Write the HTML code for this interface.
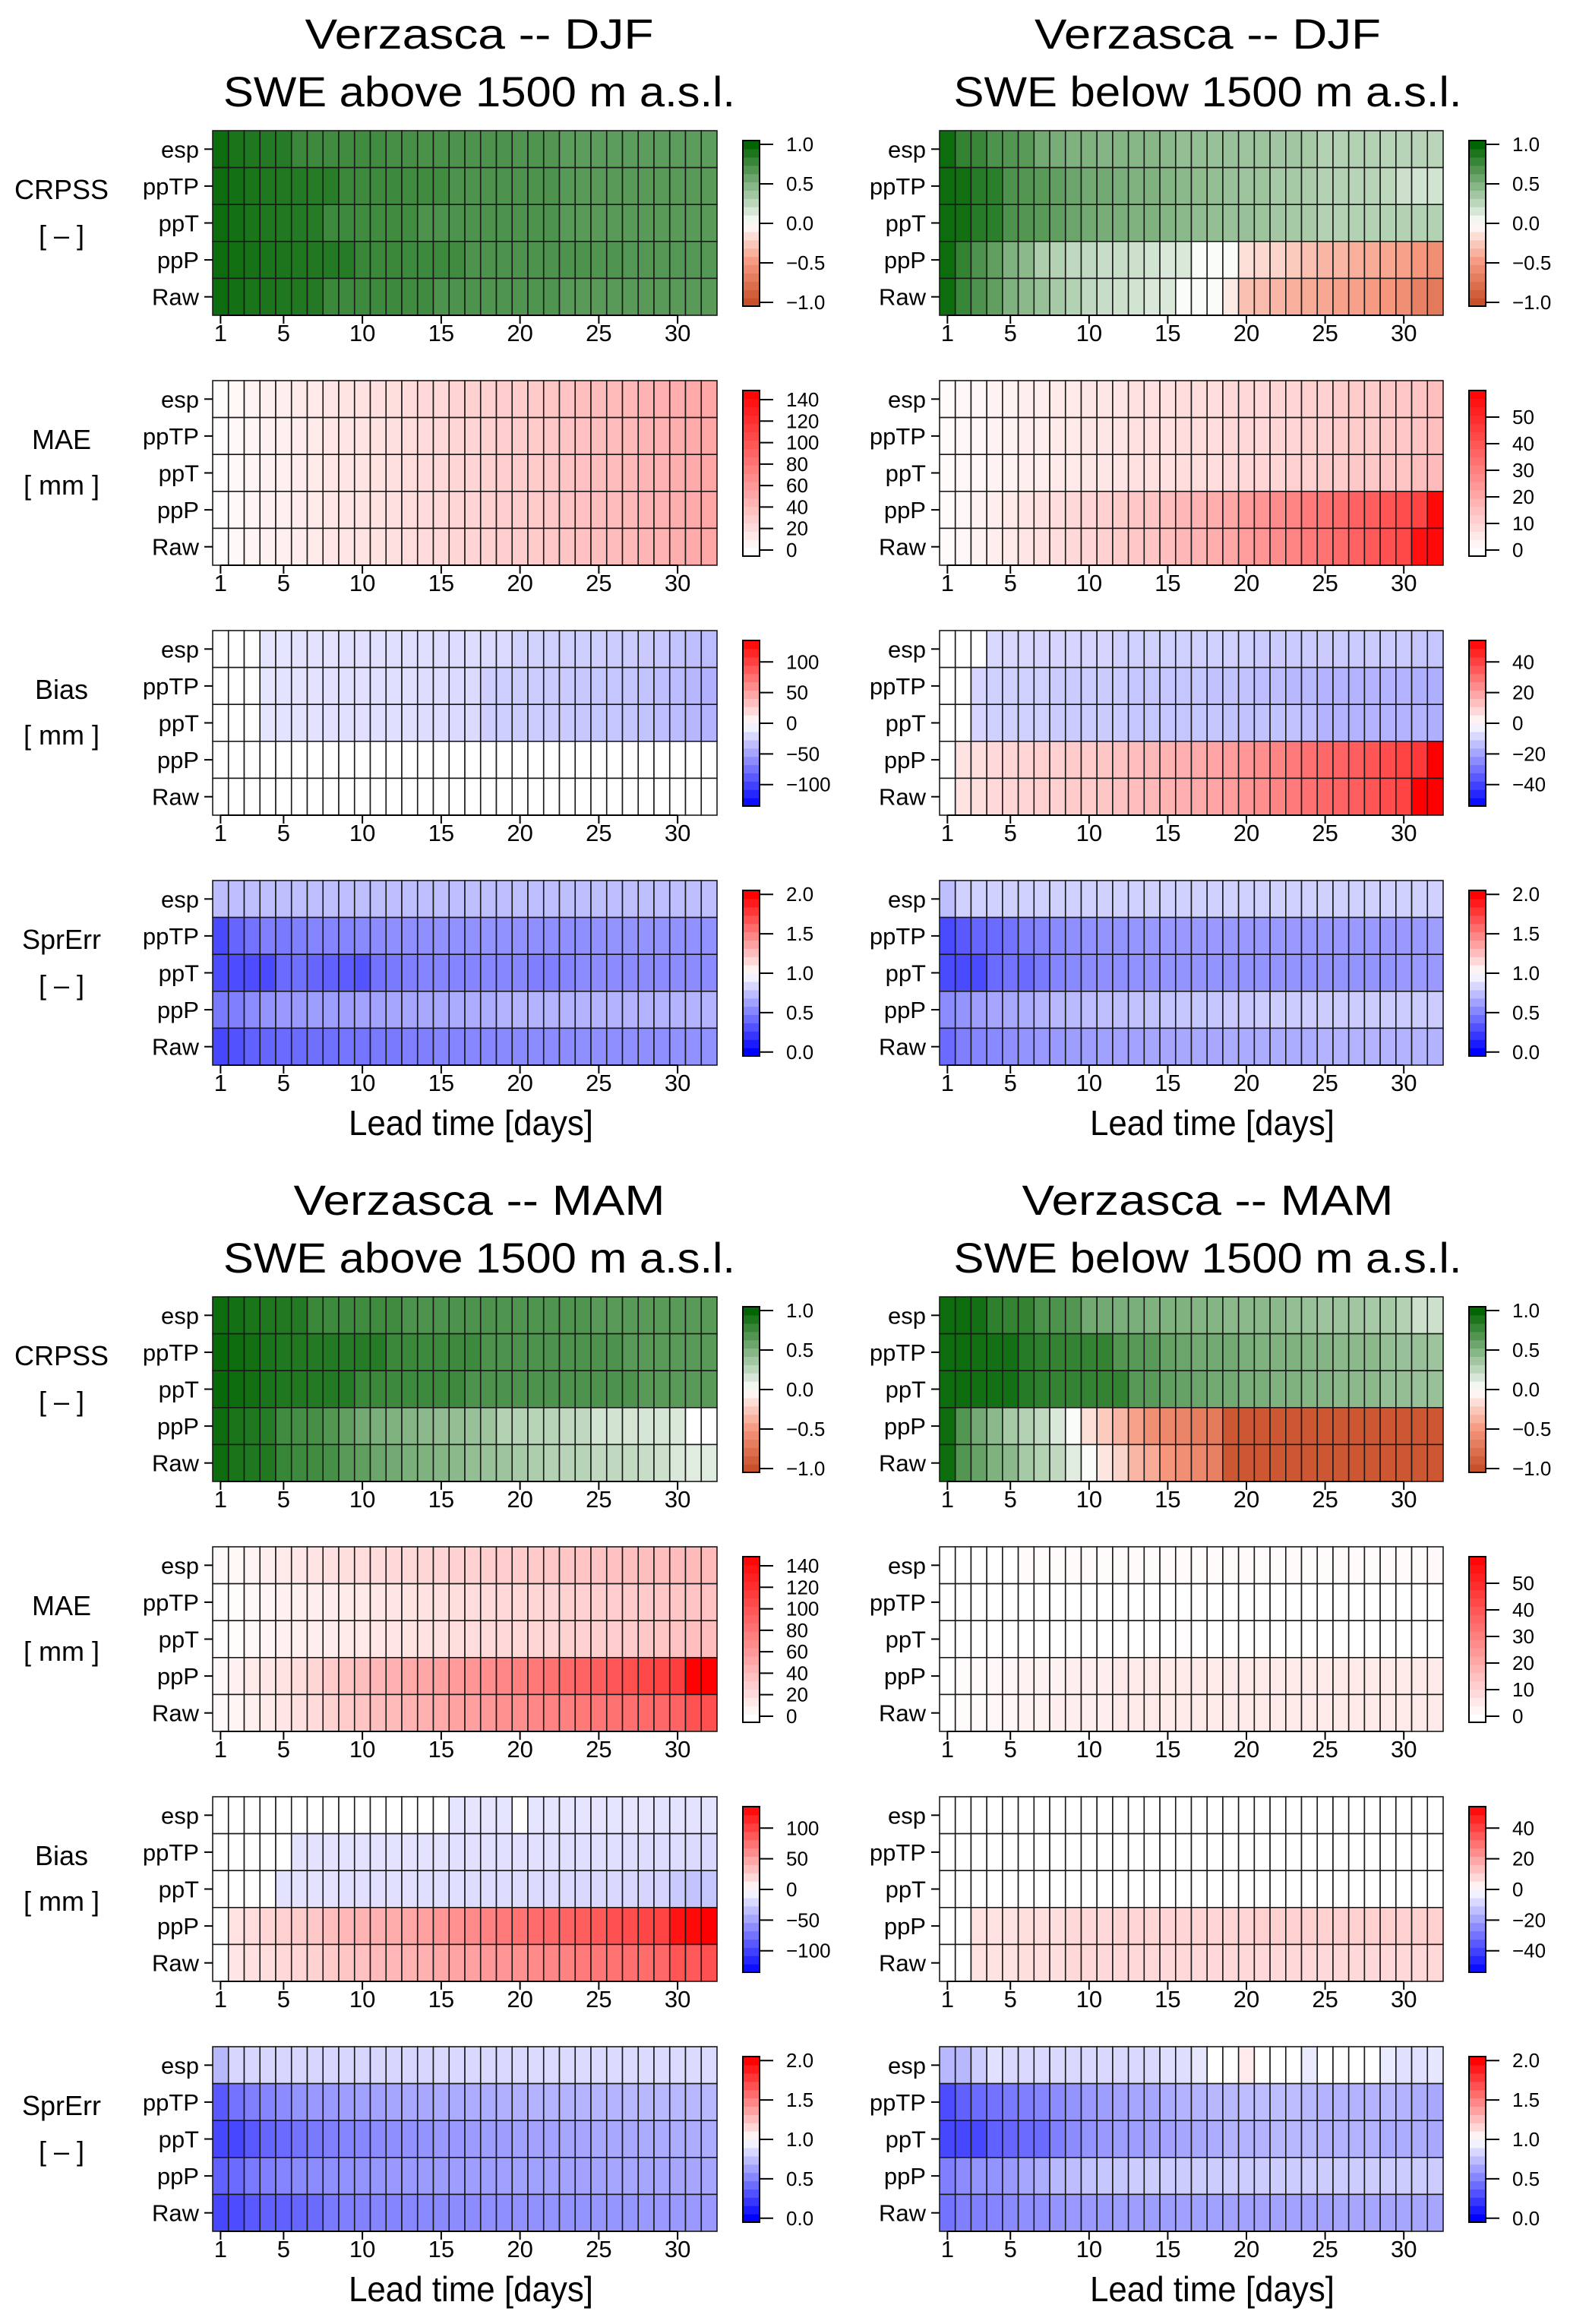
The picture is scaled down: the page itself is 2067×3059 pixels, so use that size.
<!DOCTYPE html>
<html><head><meta charset="utf-8"><title>Verzasca verification heatmaps</title>
<style>
html,body{margin:0;padding:0;background:#fff;}
svg{display:block;font-family:"Liberation Sans",Arial,sans-serif;}
</style></head>
<body>
<svg id="fig" width="2067" height="3059" viewBox="0 0 2067 3059" xmlns="http://www.w3.org/2000/svg"></svg>
<script>
// ---------- data ----------
const rowNames = ["esp","ppTP","ppT","ppP","Raw"];
const leadTicks = [1,5,10,15,20,25,30];
const crpssTicks = ["1.0","0.5","0.0","-0.5","-1.0"];
const crpssTickVals = [1,0.5,0,-0.5,-1];
const maeLeftTicks = [0,20,40,60,80,100,120,140];
const maeRightTicks = [0,10,20,30,40,50];
const biasLeftTicks = [100,50,0,-50,-100];
const biasRightTicks = [40,20,0,-20,-40];
const sprTicks = ["2.0","1.5","1.0","0.5","0.0"];
const sprTickVals = [2,1.5,1,0.5,0];

// DJF above 1500
const djfAboveCrpss = [
 [0.95,0.9,0.88,0.86,0.85,0.77,0.76,0.75,0.75,0.75,0.74,0.72,0.72,0.71,0.71,0.7,0.7,0.7,0.7,0.69,0.69,0.68,0.64,0.64,0.64,0.64,0.64,0.64,0.64,0.64,0.64,0.64],
 [0.95,0.92,0.9,0.88,0.87,0.86,0.85,0.84,0.77,0.76,0.76,0.76,0.75,0.75,0.74,0.7,0.7,0.7,0.7,0.7,0.7,0.7,0.66,0.65,0.65,0.65,0.65,0.65,0.65,0.65,0.65,0.65],
 [0.95,0.92,0.9,0.88,0.87,0.86,0.85,0.76,0.76,0.75,0.75,0.75,0.74,0.7,0.7,0.7,0.7,0.7,0.7,0.7,0.7,0.7,0.65,0.65,0.65,0.65,0.65,0.65,0.65,0.65,0.65,0.65],
 [0.95,0.93,0.91,0.9,0.89,0.88,0.87,0.86,0.85,0.78,0.77,0.77,0.76,0.76,0.76,0.75,0.7,0.7,0.7,0.7,0.7,0.7,0.7,0.7,0.69,0.69,0.67,0.67,0.67,0.67,0.67,0.67],
 [0.95,0.92,0.9,0.89,0.88,0.87,0.86,0.77,0.76,0.76,0.76,0.76,0.75,0.75,0.7,0.7,0.7,0.69,0.69,0.69,0.69,0.69,0.65,0.65,0.65,0.65,0.65,0.65,0.65,0.65,0.65,0.65]];
const djfAboveMae = [
 [2,5,7,9,10,12,13,15,16,17,18,19,21,22,23,25,26,27,29,30,31,33,35,37,39,40,42,44,46,48,50,52],
 [1,4,6,8,9,11,12,14,15,16,17,18,20,21,22,24,25,26,28,29,30,32,34,36,38,39,41,43,45,47,49,51],
 [1,4,6,8,9,11,12,14,15,16,17,18,20,21,22,24,25,26,28,29,30,32,34,36,38,39,41,43,45,47,49,51],
 [1,4,6,8,9,11,12,14,15,16,17,18,20,21,22,24,25,26,28,29,30,32,34,36,38,39,41,43,45,47,49,51],
 [1,4,6,8,9,11,12,14,15,16,17,18,20,21,22,24,25,26,28,29,30,32,34,36,38,39,41,43,45,47,49,51]];
const djfAboveBias = [
 [0,0,0,-14,-14,-15,-15,-15,-16,-16,-16,-17,-17,-17,-18,-18,-18,-19,-19,-24,-24,-25,-25,-26,-26,-27,-27,-28,-29,-32,-34,-36],
 [0,0,0,-14,-15,-15,-15,-16,-16,-16,-17,-17,-17,-18,-18,-19,-19,-26,-26,-27,-27,-28,-28,-29,-30,-30,-31,-32,-34,-36,-38,-42],
 [0,0,0,-14,-15,-15,-15,-16,-16,-16,-17,-17,-17,-18,-18,-19,-19,-26,-26,-27,-27,-28,-28,-29,-30,-30,-31,-32,-34,-36,-38,-40],
 [0,0,0,0,0,0,0,0,0,0,0,0,0,0,0,0,0,0,0,0,0,0,0,0,0,0,0,0,0,0,0,0],
 [0,0,0,0,0,0,0,0,0,0,0,0,0,0,0,0,0,0,0,0,0,0,0,0,0,0,0,0,0,0,0,0]];
const djfAboveSpr = [
 [0.74,0.75,0.75,0.75,0.75,0.75,0.75,0.75,0.75,0.75,0.75,0.75,0.75,0.75,0.75,0.75,0.75,0.75,0.75,0.75,0.75,0.75,0.75,0.75,0.75,0.75,0.75,0.75,0.75,0.75,0.75,0.75],
 [0.29,0.4,0.45,0.5,0.48,0.5,0.52,0.52,0.52,0.54,0.55,0.56,0.56,0.56,0.57,0.57,0.57,0.58,0.57,0.57,0.56,0.56,0.56,0.56,0.57,0.58,0.58,0.58,0.58,0.57,0.57,0.57],
 [0.3,0.3,0.3,0.29,0.42,0.44,0.4,0.38,0.36,0.33,0.45,0.48,0.5,0.52,0.52,0.52,0.52,0.53,0.53,0.53,0.5,0.5,0.52,0.55,0.55,0.55,0.55,0.55,0.55,0.55,0.55,0.55],
 [0.48,0.5,0.55,0.58,0.6,0.6,0.62,0.62,0.62,0.64,0.64,0.65,0.65,0.66,0.66,0.67,0.68,0.68,0.7,0.7,0.7,0.7,0.7,0.7,0.7,0.7,0.7,0.7,0.7,0.7,0.7,0.7],
 [0.28,0.32,0.38,0.4,0.42,0.42,0.44,0.44,0.46,0.46,0.48,0.48,0.5,0.5,0.52,0.52,0.53,0.53,0.54,0.54,0.55,0.55,0.55,0.56,0.56,0.56,0.56,0.56,0.56,0.57,0.57,0.57]];

// DJF below 1500
const djfBelowCrpss = [
 [0.95,0.8,0.78,0.7,0.68,0.65,0.55,0.53,0.5,0.5,0.48,0.48,0.47,0.47,0.45,0.42,0.42,0.4,0.4,0.38,0.38,0.37,0.37,0.35,0.3,0.3,0.3,0.3,0.28,0.28,0.28,0.27],
 [0.95,0.93,0.85,0.83,0.7,0.68,0.65,0.62,0.58,0.55,0.55,0.52,0.5,0.5,0.48,0.45,0.44,0.42,0.4,0.38,0.38,0.35,0.35,0.33,0.3,0.3,0.28,0.28,0.26,0.2,0.18,0.18],
 [0.95,0.93,0.85,0.83,0.7,0.68,0.65,0.62,0.58,0.55,0.53,0.52,0.5,0.5,0.48,0.45,0.43,0.42,0.4,0.4,0.38,0.36,0.35,0.34,0.3,0.3,0.3,0.3,0.3,0.3,0.3,0.3],
 [0.95,0.8,0.7,0.62,0.5,0.45,0.32,0.3,0.25,0.25,0.22,0.22,0.2,0.18,0.15,0.15,0.02,0.02,0.02,-0.15,-0.18,-0.2,-0.25,-0.3,-0.35,-0.35,-0.38,-0.4,-0.42,-0.45,-0.5,-0.55],
 [0.95,0.78,0.7,0.62,0.5,0.45,0.4,0.35,0.3,0.25,0.22,0.2,0.18,0.15,0.15,0.02,0.02,0.02,-0.1,-0.3,-0.32,-0.35,-0.38,-0.4,-0.42,-0.45,-0.45,-0.48,-0.5,-0.55,-0.65,-0.7]];
const djfBelowMae = [
 [1,2,2,3,3,4,4,5,5,6,6,6,7,7,7,8,8,8,9,9,9,10,10,11,11,12,12,12,13,13,14,15],
 [1,2,2,3,3,4,4,5,5,6,6,6,7,7,7,8,8,8,9,9,9,10,10,11,11,12,12,12,13,13,14,15],
 [1,2,2,3,3,4,4,5,5,6,6,6,7,7,7,8,8,8,9,9,10,10,11,11,12,12,13,13,14,14,15,16],
 [1,2,3,4,5,6,7,8,9,10,11,12,13,14,15,17,18,19,21,23,25,27,29,31,33,35,37,38,40,42,44,58],
 [1,2,3,4,5,6,7,8,9,10,11,12,13,14,15,17,18,19,21,23,25,27,29,31,33,35,37,39,41,43,56,58]];
const djfBelowBias = [
 [0,0,0,-8,-8,-8,-9,-9,-9,-9,-9,-10,-10,-10,-10,-10,-10,-10,-10,-10,-11,-11,-11,-11,-11,-11,-11,-11,-11,-11,-12,-12],
 [0,0,-9,-10,-10,-10,-10,-11,-11,-11,-11,-11,-12,-12,-12,-12,-12,-13,-13,-13,-14,-14,-15,-15,-16,-16,-16,-16,-16,-16,-17,-17],
 [0,0,-9,-10,-10,-10,-10,-11,-11,-11,-11,-11,-12,-12,-12,-12,-12,-12,-13,-13,-13,-13,-13,-14,-16,-16,-16,-16,-16,-16,-16,-17],
 [0,6,7,8,9,9,10,10,11,11,12,13,14,15,16,17,18,19,21,22,24,26,28,30,32,33,34,36,38,40,42,54],
 [0,6,7,8,9,9,10,10,11,11,12,13,14,15,16,17,18,19,21,22,24,26,28,30,32,33,34,36,38,40,54,54]];
const djfBelowSpr = [
 [0.75,0.82,0.82,0.82,0.82,0.82,0.82,0.82,0.82,0.82,0.82,0.82,0.82,0.82,0.82,0.82,0.82,0.82,0.82,0.82,0.82,0.82,0.82,0.82,0.82,0.82,0.82,0.82,0.82,0.82,0.82,0.82],
 [0.29,0.35,0.4,0.42,0.45,0.5,0.52,0.54,0.56,0.57,0.58,0.58,0.59,0.6,0.6,0.6,0.6,0.6,0.6,0.6,0.6,0.6,0.6,0.6,0.6,0.6,0.6,0.6,0.6,0.6,0.6,0.62],
 [0.29,0.29,0.29,0.42,0.45,0.42,0.48,0.52,0.54,0.55,0.56,0.56,0.57,0.58,0.58,0.58,0.58,0.58,0.58,0.58,0.58,0.58,0.58,0.58,0.58,0.58,0.58,0.58,0.58,0.6,0.6,0.6],
 [0.55,0.58,0.62,0.65,0.66,0.68,0.7,0.72,0.73,0.74,0.75,0.75,0.76,0.76,0.77,0.78,0.78,0.78,0.79,0.79,0.8,0.8,0.8,0.8,0.8,0.8,0.8,0.8,0.8,0.8,0.8,0.8],
 [0.42,0.5,0.52,0.54,0.56,0.58,0.6,0.6,0.62,0.62,0.63,0.64,0.64,0.65,0.65,0.66,0.66,0.66,0.67,0.67,0.68,0.68,0.68,0.68,0.7,0.7,0.7,0.7,0.7,0.7,0.7,0.7]];

// MAM above 1500
const mamAboveCrpss = [
 [0.95,0.92,0.9,0.88,0.87,0.86,0.77,0.76,0.76,0.75,0.75,0.75,0.7,0.7,0.7,0.7,0.7,0.7,0.69,0.69,0.69,0.69,0.69,0.69,0.65,0.65,0.65,0.65,0.65,0.65,0.65,0.65],
 [0.97,0.95,0.93,0.9,0.88,0.87,0.86,0.86,0.85,0.85,0.85,0.77,0.77,0.76,0.76,0.76,0.76,0.7,0.7,0.7,0.7,0.7,0.7,0.7,0.7,0.7,0.65,0.65,0.65,0.65,0.65,0.65],
 [0.97,0.95,0.93,0.9,0.88,0.87,0.86,0.86,0.85,0.77,0.77,0.76,0.76,0.76,0.76,0.76,0.7,0.7,0.7,0.7,0.7,0.7,0.7,0.7,0.7,0.7,0.7,0.65,0.65,0.65,0.65,0.65],
 [0.95,0.9,0.88,0.85,0.75,0.73,0.72,0.68,0.62,0.55,0.52,0.5,0.48,0.45,0.43,0.42,0.4,0.38,0.3,0.3,0.28,0.28,0.25,0.25,0.18,0.18,0.17,0.16,0.16,0.15,0.0,0.0],
 [0.95,0.9,0.88,0.87,0.78,0.76,0.74,0.72,0.65,0.62,0.58,0.55,0.52,0.5,0.48,0.45,0.42,0.4,0.38,0.35,0.32,0.3,0.28,0.28,0.25,0.25,0.24,0.22,0.2,0.15,0.12,0.12]];
const mamAboveMae = [
 [3,5,7,10,12,14,16,18,19,20,21,22,23,24,25,26,27,28,29,30,31,32,33,34,35,36,37,38,38,39,40,40],
 [1,2,4,6,8,9,10,11,12,13,14,15,16,17,18,19,20,21,22,23,24,25,26,27,28,29,30,31,32,33,34,35],
 [1,2,4,6,8,9,10,11,12,13,14,15,16,17,18,19,20,21,22,23,24,25,26,27,28,29,30,32,33,35,37,38],
 [4,8,12,14,17,20,24,30,34,38,42,46,50,52,55,58,62,66,70,74,78,82,86,90,94,98,102,106,110,112,148,148],
 [3,6,9,12,15,18,21,26,30,34,38,40,44,46,50,54,56,60,64,66,70,72,74,78,80,82,84,86,88,90,100,102]];
const mamAboveBias = [
 [0,0,0,0,0,0,0,0,0,0,0,0,0,0,0,-14,-14,-14,-14,0,-14,-14,-14,-14,-14,-14,-14,-14,-15,-15,-15,-15],
 [0,0,0,0,0,-15,-15,-15,-15,-15,-15,-15,-15,-15,-15,-16,-16,-16,-16,-16,-16,-17,-17,-17,-17,-17,-18,-18,-18,-18,-19,-20],
 [0,0,0,0,-15,-15,-15,-15,-16,-16,-16,-16,-16,-17,-17,-17,-18,-18,-18,-18,-19,-19,-19,-20,-20,-20,-21,-22,-23,-28,-32,-30],
 [0,15,18,22,25,27,29,35,38,40,42,44,47,50,55,58,62,66,70,74,78,80,82,85,88,92,95,98,100,125,130,135],
 [0,14,16,18,20,22,24,28,30,33,36,38,40,42,46,48,50,54,56,58,62,64,66,70,72,74,76,78,80,90,88,92]];
const mamAboveSpr = [
 [0.72,0.84,0.84,0.84,0.84,0.84,0.84,0.84,0.84,0.84,0.84,0.84,0.84,0.84,0.85,0.85,0.85,0.85,0.85,0.85,0.86,0.86,0.86,0.86,0.86,0.86,0.86,0.86,0.86,0.86,0.86,0.86],
 [0.35,0.45,0.5,0.52,0.55,0.58,0.6,0.6,0.62,0.63,0.64,0.65,0.66,0.66,0.67,0.67,0.68,0.68,0.69,0.69,0.7,0.7,0.7,0.71,0.71,0.71,0.72,0.72,0.72,0.72,0.72,0.72],
 [0.28,0.28,0.35,0.4,0.42,0.45,0.48,0.5,0.52,0.53,0.55,0.56,0.57,0.58,0.6,0.6,0.61,0.62,0.62,0.63,0.64,0.64,0.65,0.65,0.66,0.66,0.66,0.67,0.67,0.68,0.68,0.68],
 [0.38,0.42,0.48,0.5,0.52,0.54,0.55,0.56,0.57,0.58,0.59,0.6,0.6,0.61,0.61,0.62,0.62,0.62,0.63,0.63,0.63,0.64,0.64,0.64,0.64,0.65,0.65,0.65,0.65,0.65,0.65,0.65],
 [0.28,0.3,0.35,0.38,0.38,0.4,0.42,0.48,0.5,0.51,0.52,0.52,0.53,0.54,0.54,0.55,0.55,0.56,0.56,0.57,0.57,0.58,0.58,0.58,0.59,0.59,0.59,0.6,0.6,0.6,0.6,0.6]];

// MAM below 1500
const mamBelowCrpss = [
 [0.95,0.95,0.92,0.82,0.8,0.8,0.7,0.7,0.68,0.55,0.55,0.52,0.52,0.5,0.5,0.5,0.48,0.48,0.45,0.45,0.45,0.45,0.42,0.4,0.38,0.38,0.37,0.35,0.35,0.3,0.2,0.2],
 [0.95,0.95,0.93,0.92,0.92,0.85,0.82,0.8,0.8,0.8,0.8,0.68,0.66,0.65,0.6,0.58,0.55,0.55,0.55,0.52,0.5,0.5,0.5,0.48,0.48,0.45,0.45,0.45,0.42,0.4,0.4,0.38],
 [0.95,0.95,0.93,0.92,0.92,0.85,0.82,0.8,0.8,0.8,0.8,0.8,0.66,0.65,0.62,0.6,0.58,0.55,0.55,0.52,0.52,0.5,0.5,0.48,0.48,0.45,0.45,0.45,0.42,0.42,0.4,0.4],
 [0.95,0.68,0.55,0.45,0.35,0.3,0.25,0.15,0.02,-0.15,-0.25,-0.35,-0.45,-0.55,-0.6,-0.62,-0.68,-0.7,-0.95,-0.95,-0.95,-0.95,-0.95,-0.95,-0.95,-0.95,-0.95,-0.95,-0.95,-0.95,-0.95,-0.95],
 [0.95,0.68,0.6,0.5,0.45,0.35,0.3,0.25,0.12,0.02,-0.12,-0.2,-0.35,-0.4,-0.5,-0.55,-0.6,-0.65,-0.95,-0.95,-0.95,-0.95,-0.95,-0.95,-0.95,-0.95,-0.95,-0.95,-0.95,-0.95,-0.95,-0.95]];
const mamBelowMae = [
 [0,0,0,0,0,1,1,1,1,1,1,1,1,1,1,1,1,1,1,1,1,1,1,1,1,1,1,1,1,1,1,1.5],
 [0,0,0,0,0,0,0,0,0,0,0,0,0,0,0,0,0.5,0,0,0,0,0,0,0,0,0,0,0,0,0,0,0],
 [0,0,0,0,0,0,0,0,0,0,0,0,0,0,0,0.5,0,0,0,0,0,0,0,0,0,0,0,0,0,0,0,0],
 [0,1,1,2,2,3,3,3,4,4,4,5,5,5,5,5,5,5,5,5,5,5,5,5,5,5,5,5,5,5,5,5],
 [0,1,1,2,2,3,3,4,4,4,4,5,5,5,5,5,5,5,5,5,5,5,5,5,5,5,5,5,5,5,5,5]];
const mamBelowBias = [
 [0,0,0,0,0,0,0,0,0,0,0,0,0,0,0,0,0,0,0,0,0,0,0,0,0,0,0,0,0,0,0,0],
 [0,0,0,0,0,0,0,0,0,0,0,0,0,0,0,0,0,0,0,0,0,0,0,0,0,0,0,0,0,0,0,0],
 [0,0,0,0,0,0,0,0,0,0,0,0,0,0,0,0,0,0,0,0,0,0,0,0,0,0,0,0,0,0,0,0],
 [0,0,6,6,6,7,7,7,8,8,8,9,9,9,9,9,9,9,9,9,10,10,10,10,10,10,10,10,10,10,10,10],
 [0,0,6,6,6,7,7,7,8,8,8,8,8,8,8,8,8,8,8,8,8,8,8,8,8,8,8,8,8,8,8,8]];
const mamBelowSpr = [
 [0.72,0.72,0.8,0.88,0.85,0.85,0.85,0.85,0.85,0.85,0.85,0.85,0.85,0.85,0.87,0.87,0.9,1,1,1.08,1,1,1,0.92,1,1,1,1,0.92,0.88,0.88,0.9],
 [0.3,0.38,0.42,0.45,0.48,0.5,0.52,0.55,0.58,0.6,0.62,0.64,0.65,0.65,0.68,0.7,0.7,0.72,0.72,0.74,0.74,0.74,0.74,0.72,0.7,0.7,0.7,0.7,0.72,0.7,0.68,0.66],
 [0.28,0.28,0.28,0.38,0.4,0.42,0.42,0.5,0.55,0.58,0.6,0.62,0.62,0.64,0.64,0.65,0.66,0.68,0.7,0.7,0.7,0.72,0.72,0.72,0.7,0.7,0.7,0.7,0.68,0.68,0.68,0.66],
 [0.5,0.55,0.58,0.58,0.6,0.65,0.68,0.72,0.74,0.76,0.78,0.78,0.8,0.8,0.8,0.8,0.8,0.8,0.8,0.8,0.8,0.8,0.8,0.8,0.8,0.8,0.8,0.8,0.8,0.8,0.8,0.8],
 [0.45,0.5,0.5,0.52,0.54,0.56,0.56,0.58,0.6,0.6,0.6,0.62,0.62,0.62,0.62,0.63,0.63,0.63,0.64,0.64,0.64,0.64,0.64,0.64,0.64,0.65,0.65,0.65,0.65,0.65,0.65,0.65]];

// ---------- drawing ----------
const NS = "http://www.w3.org/2000/svg";
const svg = document.getElementById("fig");
function mk(tag, attrs, parent){ const e=document.createElementNS(NS,tag); for(const k in attrs) e.setAttribute(k,attrs[k]); (parent||svg).appendChild(e); return e; }
function lerp(a,b,t){return [a[0]+(b[0]-a[0])*t,a[1]+(b[1]-a[1])*t,a[2]+(b[2]-a[2])*t];}
function rgb(c){return "rgb("+c.map(v=>Math.round(Math.max(0,Math.min(255,v)))).join(",")+")";}
function cmapCrpss(v){
  if(v>=0){ const t=Math.min(1,v); return rgb(lerp([255,255,255],[0,100,0],t)); }
  const t=Math.min(1,-v);
  if(t<0.5) return rgb(lerp([255,255,255],[246,150,125],t/0.5));
  return rgb(lerp([246,150,125],[200,80,42],(t-0.5)/0.5));
}
function cmapSeq(max){ return v=>rgb(lerp([255,255,255],[255,0,0],Math.max(0,Math.min(1,v/max)))); }
function cmapDiv(max){ return v=>{ const t=Math.max(-1,Math.min(1,v/max)); return t>=0?rgb(lerp([255,255,255],[255,0,0],t)):rgb(lerp([255,255,255],[0,0,255],-t)); }; }
function cmapSpr(v){ const t=Math.max(-1,Math.min(1,v-1)); return t>=0?rgb(lerp([255,255,255],[255,0,0],t)):rgb(lerp([255,255,255],[0,0,255],-t)); }

const PH = 243;               // heatmap height
function xScale(x0,w){ return d => x0 + (d-1)*w/32; }   // left edge of day d
function drawHeatmap(id, x0, w, top, data, cmap, cb, showMetric, metric, unit){
  const g = mk("g",{});
  
  
  const xs = xScale(x0,w); const cw=w/32, rh=PH/5;
  data.forEach((row,ri)=>{
    row.forEach((v,ci)=>{
      const r = mk("rect",{x:xs(ci+1),y:top+ri*rh,width:cw,height:rh,fill:cmap(v),stroke:"#1a1a1a","stroke-width":1.6},g);
      
      
    });
  });
  rowNames.forEach((n,ri)=>{
    const cy = top+ri*rh+rh/2;
    mk("line",{x1:x0-11,x2:x0,y1:cy,y2:cy,stroke:"#000","stroke-width":2},g);
    const t = mk("text",{x:x0-18,y:cy+11,"font-size":31,"text-anchor":"end",fill:"#000"},g);
    t.textContent=n;
    
    
  });
  const xc = d => xs(d)+cw/2;
  mk("line",{x1:xc(1),x2:xc(30),y1:top+PH,y2:top+PH,stroke:"#000","stroke-width":2},g);
  leadTicks.forEach(d=>{
    mk("line",{x1:xc(d),x2:xc(d),y1:top+PH,y2:top+PH+11,stroke:"#000","stroke-width":2},g);
    const t = mk("text",{x:xc(d),y:top+PH+34,"font-size":31,"text-anchor":"middle",fill:"#000"},g);
    t.textContent=d;
    
    
  });
  if(showMetric){
    const t1 = mk("text",{x:81,y:top+90,"font-size":36,"text-anchor":"middle",fill:"#000"},g);
    t1.textContent=metric;
    
    
    const t2 = mk("text",{x:81,y:top+150,"font-size":36,"text-anchor":"middle",fill:"#000"},g);
    t2.textContent=unit;
    
    
  }
  const cbx = x0+w+34, cbw=22, cbt=top+13, cbb=top+231, cbh=cbb-cbt;
  const cg = mk("g",{},g);
  
  
  const yv = v => cbb - (v-cb.lo)/(cb.hi-cb.lo)*cbh;
  const N=20;
  for(let i=0;i<N;i++){
    const v0 = cb.lo+(cb.hi-cb.lo)*i/N, v1=cb.lo+(cb.hi-cb.lo)*(i+1)/N;
    mk("rect",{x:cbx,y:yv(v1),width:cbw,height:yv(v0)-yv(v1)+0.6,fill:cmap((v0+v1)/2)},cg);
  }
  mk("rect",{x:cbx,y:cbt,width:cbw,height:cbh,fill:"none",stroke:"#000","stroke-width":2},cg);
  cb.vals.forEach((v,i)=>{
    const y=yv(v);
    mk("line",{x1:cbx+cbw,x2:cbx+cbw+18,y1:y,y2:y,stroke:"#000","stroke-width":2},cg);
    const t=mk("text",{x:cbx+cbw+35,y:y+9,"font-size":26,fill:"#000"},cg);
    t.textContent=String(cb.labels[i]).replace("-","\u2212");
    
    
  });
}
function title(cx, yBase, l1, w1, l2, w2){
  const a=mk("text",{x:cx,y:yBase,"font-size":56,"text-anchor":"middle",textLength:w1,lengthAdjust:"spacingAndGlyphs",fill:"#000"});
  a.textContent=l1;
  
  
  const b=mk("text",{x:cx,y:yBase+76,"font-size":56,"text-anchor":"middle",textLength:w2,lengthAdjust:"spacingAndGlyphs",fill:"#000"});
  b.textContent=l2;
  
  
}
function xlabel(cx,y){
  const t=mk("text",{x:cx,y:y,"font-size":46,"text-anchor":"middle",textLength:322,lengthAdjust:"spacingAndGlyphs",fill:"#000"});
  t.textContent="Lead time [days]";
  
  
}
const cbCrpss={lo:-1.048,hi:1.048,vals:crpssTickVals,labels:crpssTicks};
const cbMaeL={lo:-5.7,hi:148.5,vals:maeLeftTicks,labels:maeLeftTicks};
const cbMaeR={lo:-2.3,hi:60,vals:maeRightTicks,labels:maeRightTicks};
const cbBiasL={lo:-135,hi:135,vals:biasLeftTicks,labels:biasLeftTicks};
const cbBiasR={lo:-54,hi:54,vals:biasRightTicks,labels:biasRightTicks};
const cbSpr={lo:-0.05,hi:2.05,vals:sprTickVals,labels:sprTicks};

const LX=280, LW=664, RX=1237, RW=663;
const blocks=[
 {off:0, t1:"Verzasca -- DJF", w1:[459,456], sets:[[djfAboveCrpss,djfAboveMae,djfAboveBias,djfAboveSpr],[djfBelowCrpss,djfBelowMae,djfBelowBias,djfBelowSpr]]},
 {off:1535, t1:"Verzasca -- MAM", w1:[489,489], sets:[[mamAboveCrpss,mamAboveMae,mamAboveBias,mamAboveSpr],[mamBelowCrpss,mamBelowMae,mamBelowBias,mamBelowSpr]]}
];
const tops=[172,501,830,1159];
blocks.forEach((b,bi)=>{
  title(631,64+b.off,b.t1,b.w1[0],"SWE above 1500 m a.s.l.",674);
  title(1590,64+b.off,b.t1,b.w1[1],"SWE below 1500 m a.s.l.",669);
  [0,1].forEach(side=>{
    const x0 = side? RX:LX, w = side?RW:LW;
    const s=b.sets[side];
    const tag=(bi?"mam":"djf")+(side?"-below":"-above");
    drawHeatmap(tag+"-crpss-heatmap",x0,w,tops[0]+b.off,s[0],cmapCrpss,cbCrpss,!side,"CRPSS","[ \u2013 ]");
    drawHeatmap(tag+"-mae-heatmap",x0,w,tops[1]+b.off,s[1],side?cmapSeq(60):cmapSeq(148.5),side?cbMaeR:cbMaeL,!side,"MAE","[ mm ]");
    drawHeatmap(tag+"-bias-heatmap",x0,w,tops[2]+b.off,s[2],side?cmapDiv(54):cmapDiv(135),side?cbBiasR:cbBiasL,!side,"Bias","[ mm ]");
    drawHeatmap(tag+"-sprerr-heatmap",x0,w,tops[3]+b.off,s[3],cmapSpr,cbSpr,!side,"SprErr","[ \u2013 ]");
  });
  xlabel(620,1494+b.off);
  xlabel(1596,1494+b.off);
});
</script>
</body></html>
